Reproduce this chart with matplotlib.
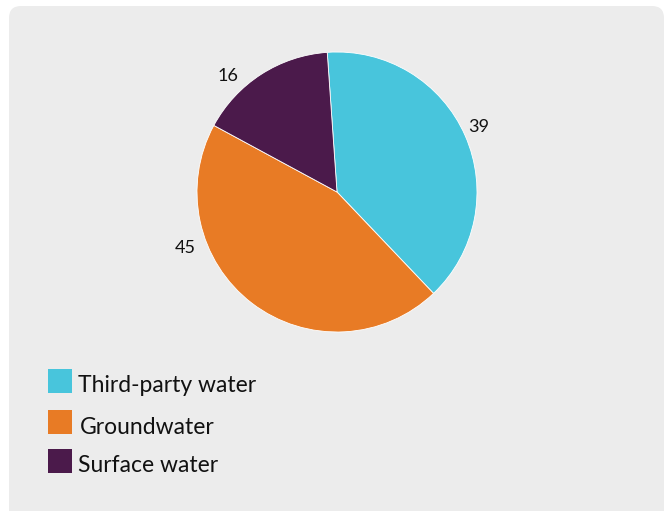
import numpy as np
import matplotlib.pyplot as plt
from matplotlib.patches import FancyBboxPatch, Rectangle

# ── data ─────────────────────────────────────────────
categories = ['Third-party water', 'Groundwater', 'Surface water']
values = [39, 45, 16]
colors = ['#48C5DC', '#E87B25', '#4B1A4B']

# label placement (angle in degrees, radius in px) -- style only
label_angles = [25, -160, 133]
label_radius = [156, 162, 160]

plt.rcParams['font.family'] = ['Lato', 'DejaVu Sans']

W, H = 668, 511
fig = plt.figure(figsize=(W / 100, H / 100), dpi=100)
ax = fig.add_axes([0, 0, 1, 1])

# ── background panel ─────────────────────────────────
panel = FancyBboxPatch((9, -30), 655, 535, boxstyle='round,pad=0,rounding_size=12',
                       fc='#ECECEC', ec='none', zorder=0)
ax.add_patch(panel)

# ── pie ──────────────────────────────────────────────
cx, cy, r = 337, H - 192, 140
ax.pie(values, colors=colors, startangle=94, counterclock=False,
       center=(cx, cy), radius=r, frame=True,
       wedgeprops=dict(edgecolor='white', linewidth=0.6))
ax.set_xlim(0, W)
ax.set_ylim(0, H)
ax.set_aspect('equal')
ax.axis('off')

for v, a, rr in zip(values, label_angles, label_radius):
    t = np.deg2rad(a)
    ax.text(cx + rr * np.cos(t), cy + rr * np.sin(t) - 1, str(v),
            ha='center', va='center', fontsize=13, color='#111111')

# ── legend ───────────────────────────────────────────
box_y = [H - 381, H - 422, H - 461]
text_y = [H - 385, H - 428, H - 465]
text_x = [78, 80, 78]
for name, c, by, ty, tx in zip(categories, colors, box_y, text_y, text_x):
    ax.add_patch(Rectangle((48, by - 12), 24, 24, fc=c, ec='none'))
    ax.text(tx, ty, name, ha='left', va='center', fontsize=16.5, color='#111111')

plt.savefig('out.png', dpi=100)
